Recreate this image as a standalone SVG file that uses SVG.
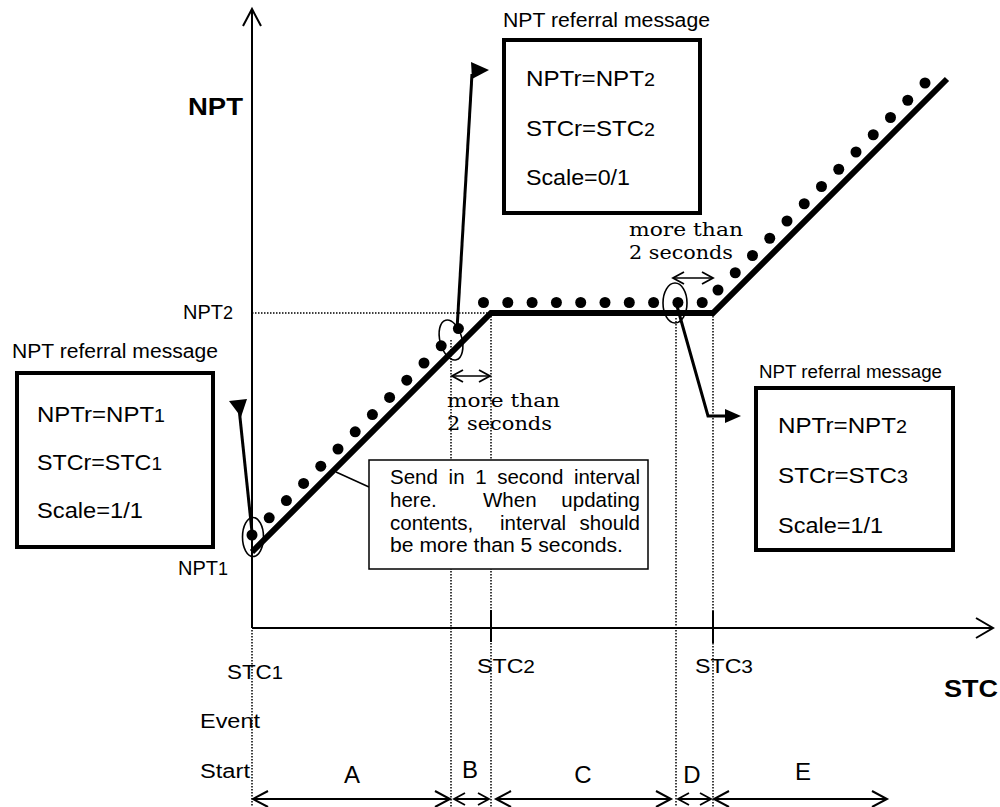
<svg xmlns="http://www.w3.org/2000/svg" width="1000" height="807" viewBox="0 0 1000 807">
  <style>
    .ln { stroke: #000; fill: none; }
    .axis { stroke: #000; stroke-width: 2; fill: none; }
    .trace { stroke: #000; stroke-width: 6; fill: none; stroke-linejoin: miter; }
    .dotted { stroke: #000; stroke-width: 1.5; stroke-dasharray: 1.5 1.5; fill: none; }
    .ring { stroke: #000; stroke-width: 1.6; fill: none; }
    .ptr { stroke: #000; stroke-width: 3; fill: none; }
    .box { stroke: #000; stroke-width: 4; fill: #fff; }
    .note { stroke: #000; stroke-width: 1.5; fill: #fff; }
    .dot { fill: #000; }
    text { font-family: "Liberation Sans", Arial, sans-serif; fill: #000; }
    .title { font-size: 20px; }
    .title-s { font-size: 18px; }
    .field { font-size: 22px; }
    .sub { font-size: 18px; }
    .lbl { font-size: 20px; }
    .bold { font-size: 24px; font-weight: bold; }
    .seg { font-size: 24px; text-anchor: middle; }
    .serif { font-family: "DejaVu Serif", "Liberation Serif", serif; font-size: 18px; }
    .body { font-size: 20.5px; }
  </style>
  <defs>
    <marker id="chevL" markerUnits="userSpaceOnUse" viewBox="0 0 20 20" markerWidth="20" markerHeight="20" refX="17" refY="10" orient="auto-start-reverse">
      <path d="M2,2 L17,10 L2,18" fill="none" stroke="#000" stroke-width="2"/>
    </marker>
    <marker id="chevS" markerUnits="userSpaceOnUse" viewBox="0 0 20 20" markerWidth="20" markerHeight="20" refX="15" refY="10" orient="auto-start-reverse">
      <path d="M4,4 L15,10 L4,16" fill="none" stroke="#000" stroke-width="1.8"/>
    </marker>
  </defs>

  <!-- axes -->
  <g id="axes">
    <path class="axis" d="M252,628 V9"/>
    <path class="axis" d="M243,26 L252,9 L261,26"/>
    <path class="axis" d="M252,628 H992"/>
    <path class="axis" d="M976,618 L993,628 L976,638"/>
    <path class="axis" d="M491,610 V642"/>
    <path class="axis" d="M713,611 V643"/>
    <text class="bold" x="188" y="115" textLength="55" lengthAdjust="spacingAndGlyphs">NPT</text>
    <text class="bold" x="944" y="697" textLength="54" lengthAdjust="spacingAndGlyphs">STC</text>
  </g>

  <!-- guide lines -->
  <g id="guides">
    <path class="dotted" d="M252,313 H491"/>
    <path class="dotted" d="M252,630 V807"/>
    <path class="dotted" d="M451,340 V807"/>
    <path class="dotted" d="M491,316 V807"/>
    <path class="dotted" d="M676,318 V807"/>
    <path class="dotted" d="M713,316 V807"/>
  </g>

  <!-- NPT trace -->
  <g id="trace">
    <path class="trace" d="M252,552 L491,313 H713 L947,79"/>
  </g>

  <!-- packets sent -->
  <g id="packets">
    <circle class="dot" cx="252" cy="535" r="5.5"/>
    <circle class="dot" cx="269.2" cy="517.8" r="5.5"/>
    <circle class="dot" cx="286.4" cy="500.6" r="5.5"/>
    <circle class="dot" cx="303.6" cy="483.4" r="5.5"/>
    <circle class="dot" cx="320.8" cy="466.2" r="5.5"/>
    <circle class="dot" cx="338" cy="449" r="5.5"/>
    <circle class="dot" cx="355.2" cy="431.8" r="5.5"/>
    <circle class="dot" cx="372.4" cy="414.6" r="5.5"/>
    <circle class="dot" cx="389.6" cy="397.4" r="5.5"/>
    <circle class="dot" cx="406.8" cy="380.2" r="5.5"/>
    <circle class="dot" cx="424" cy="363" r="5.5"/>
    <circle class="dot" cx="441.2" cy="345.8" r="5.5"/>
    <circle class="dot" cx="458.4" cy="328.6" r="5.5"/>

    <circle class="dot" cx="483.5" cy="302.5" r="5.5"/>
    <circle class="dot" cx="507.8" cy="302.5" r="5.5"/>
    <circle class="dot" cx="532.1" cy="302.5" r="5.5"/>
    <circle class="dot" cx="556.4" cy="302.5" r="5.5"/>
    <circle class="dot" cx="580.7" cy="302.5" r="5.5"/>
    <circle class="dot" cx="605" cy="302.5" r="5.5"/>
    <circle class="dot" cx="629.3" cy="302.5" r="5.5"/>
    <circle class="dot" cx="653.6" cy="302.5" r="5.5"/>
    <circle class="dot" cx="677.9" cy="302.5" r="5.5"/>
    <circle class="dot" cx="702.2" cy="302.5" r="5.5"/>

    <circle class="dot" cx="718" cy="290" r="5.5"/>
    <circle class="dot" cx="735.25" cy="272.75" r="5.5"/>
    <circle class="dot" cx="752.5" cy="255.5" r="5.5"/>
    <circle class="dot" cx="769.75" cy="238.25" r="5.5"/>
    <circle class="dot" cx="787" cy="221" r="5.5"/>
    <circle class="dot" cx="804.25" cy="203.75" r="5.5"/>
    <circle class="dot" cx="821.5" cy="186.5" r="5.5"/>
    <circle class="dot" cx="838.75" cy="169.25" r="5.5"/>
    <circle class="dot" cx="856" cy="152" r="5.5"/>
    <circle class="dot" cx="873.25" cy="134.75" r="5.5"/>
    <circle class="dot" cx="890.5" cy="117.5" r="5.5"/>
    <circle class="dot" cx="907.75" cy="100.25" r="5.5"/>
    <circle class="dot" cx="925" cy="83" r="5.5"/>
  </g>

  <!-- level labels -->
  <g id="levels">
    <text class="lbl" x="183" y="319">NPT<tspan class="sub">2</tspan></text>
    <text class="lbl" x="178" y="575">NPT<tspan class="sub">1</tspan></text>
  </g>

  <!-- connectors: pointers from marked packets to their messages -->
  <g id="connectors">
    <ellipse class="ring" cx="253" cy="537" rx="10.5" ry="19.5"/>
    <ellipse class="ring" cx="451" cy="340" rx="11" ry="20.5" transform="rotate(-15 451 340)"/>
    <ellipse class="ring" cx="675" cy="303" rx="12" ry="20"/>

    <path class="ptr" d="M252,532 L239,408"/>
    <polygon points="229,401 247,399 241,417"/>

    <path class="ptr" d="M457,330 L472,74"/>
    <polygon points="471,62 489,70 472,79"/>

    <path class="ptr" d="M677,306 L708,416 H727"/>
    <polygon points="725,409 741,416 725,423"/>

    <path class="ln" stroke-width="1.5" d="M336,472 L369,487"/>

    <!-- interval dimensions -->
    <path class="ln" stroke-width="1.5" d="M452,376 H490" marker-start="url(#chevS)" marker-end="url(#chevS)"/>
    <path class="ln" stroke-width="1.5" d="M673,278 H713" marker-start="url(#chevS)" marker-end="url(#chevS)"/>

    <!-- phase spans -->
    <path class="ln" stroke-width="2" d="M253,799 H450" marker-start="url(#chevL)" marker-end="url(#chevL)"/>
    <path class="ln" stroke-width="2" d="M454,799 H489" marker-start="url(#chevS)" marker-end="url(#chevS)"/>
    <path class="ln" stroke-width="2" d="M496,799 H671" marker-start="url(#chevL)" marker-end="url(#chevL)"/>
    <path class="ln" stroke-width="2" d="M678,799 H711" marker-start="url(#chevS)" marker-end="url(#chevS)"/>
    <path class="ln" stroke-width="2" d="M714,799 H887" marker-start="url(#chevL)" marker-end="url(#chevL)"/>
  </g>

  <!-- referral message at STC1 -->
  <g id="msg1">
    <text class="title" x="12" y="358" textLength="206" lengthAdjust="spacingAndGlyphs">NPT referral message</text>
    <rect class="box" x="17" y="373" width="196" height="174"/>
    <text class="field" x="37" y="422" textLength="128" lengthAdjust="spacingAndGlyphs">NPTr=NPT<tspan class="sub">1</tspan></text>
    <text class="field" x="37" y="470" textLength="125" lengthAdjust="spacingAndGlyphs">STCr=STC<tspan class="sub">1</tspan></text>
    <text class="field" x="37" y="518" textLength="106" lengthAdjust="spacingAndGlyphs">Scale=1/1</text>
  </g>

  <!-- referral message at STC2 -->
  <g id="msg2">
    <text class="title" x="503" y="27" textLength="207" lengthAdjust="spacingAndGlyphs">NPT referral message</text>
    <rect class="box" x="504" y="40" width="196" height="173"/>
    <text class="field" x="526" y="86" textLength="129" lengthAdjust="spacingAndGlyphs">NPTr=NPT<tspan class="sub">2</tspan></text>
    <text class="field" x="526" y="136" textLength="129" lengthAdjust="spacingAndGlyphs">STCr=STC<tspan class="sub">2</tspan></text>
    <text class="field" x="526" y="185" textLength="104" lengthAdjust="spacingAndGlyphs">Scale=0/1</text>
  </g>

  <!-- referral message at STC3 -->
  <g id="msg3">
    <text class="title-s" x="759" y="378" textLength="183" lengthAdjust="spacingAndGlyphs">NPT referral message</text>
    <rect class="box" x="756" y="388" width="197" height="162"/>
    <text class="field" x="778" y="433" textLength="129" lengthAdjust="spacingAndGlyphs">NPTr=NPT<tspan class="sub">2</tspan></text>
    <text class="field" x="778" y="483" textLength="130" lengthAdjust="spacingAndGlyphs">STCr=STC<tspan class="sub">3</tspan></text>
    <text class="field" x="778" y="533" textLength="105" lengthAdjust="spacingAndGlyphs">Scale=1/1</text>
  </g>

  <!-- note on send interval (justified lines) -->
  <g id="note">
    <rect class="note" x="369" y="460" width="279" height="109"/>
    <text class="body" y="484"><tspan x="390">Send</tspan><tspan x="448.6">in</tspan><tspan x="475.2">1</tspan><tspan x="497.2">second</tspan><tspan x="640" text-anchor="end">interval</tspan></text>
    <text class="body" y="507"><tspan x="390">here.</tspan><tspan x="483">When</tspan><tspan x="640" text-anchor="end">updating</tspan></text>
    <text class="body" y="530"><tspan x="390">contents,</tspan><tspan x="500">interval</tspan><tspan x="640" text-anchor="end">should</tspan></text>
    <text class="body" x="390" y="552" textLength="233" lengthAdjust="spacingAndGlyphs">be more than 5 seconds.</text>
  </g>

  <!-- interval labels -->
  <g id="gap1">
    <text class="serif" x="447" y="407" textLength="113" lengthAdjust="spacingAndGlyphs">more than</text>
    <text class="serif" x="447" y="430" textLength="105" lengthAdjust="spacingAndGlyphs">2 seconds</text>
  </g>
  <g id="gap2">
    <text class="serif" x="629" y="236" textLength="114" lengthAdjust="spacingAndGlyphs">more than</text>
    <text class="serif" x="629" y="259" textLength="104" lengthAdjust="spacingAndGlyphs">2 seconds</text>
  </g>

  <!-- time axis labels -->
  <g id="stc-labels">
    <text class="lbl" x="227" y="679" textLength="56" lengthAdjust="spacingAndGlyphs">STC<tspan class="sub">1</tspan></text>
    <text class="lbl" x="477" y="673" textLength="58" lengthAdjust="spacingAndGlyphs">STC<tspan class="sub">2</tspan></text>
    <text class="lbl" x="695" y="673" textLength="58" lengthAdjust="spacingAndGlyphs">STC<tspan class="sub">3</tspan></text>
    <text class="lbl" x="200" y="728" textLength="60" lengthAdjust="spacingAndGlyphs">Event</text>
    <text class="lbl" x="200" y="778" textLength="50" lengthAdjust="spacingAndGlyphs">Start</text>
  </g>

  <!-- phases -->
  <g id="phases">
    <text class="seg" x="352" y="783">A</text>
    <text class="seg" x="470" y="778">B</text>
    <text class="seg" x="583" y="783">C</text>
    <text class="seg" x="692" y="783">D</text>
    <text class="seg" x="803" y="780">E</text>
  </g>
</svg>
